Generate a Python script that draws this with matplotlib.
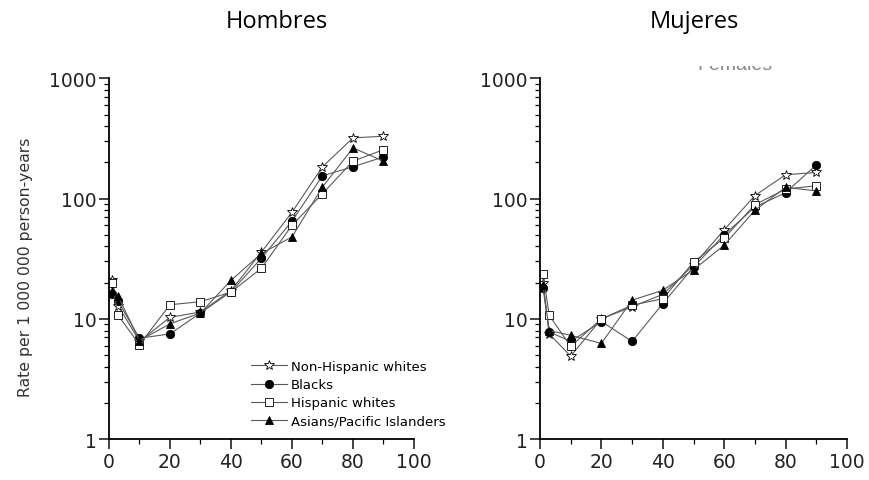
import matplotlib.pyplot as plt
from matplotlib.patches import Rectangle
from matplotlib.ticker import MultipleLocator, LogLocator, NullFormatter, FixedFormatter, FixedLocator

plt.rcParams['font.family'] = ['DejaVu Sans']

# age (years) and rates per 1 000 000 person-years
ages = [1, 3, 10, 20, 30, 40, 50, 60, 70, 80, 90]
series = ['Non-Hispanic whites', 'Blacks', 'Hispanic whites', 'Asians/Pacific Islanders']

men_nhw = [20.9, 12.9, 6.5, 10.3, 11.4, 17.2, 36, 77, 184, 320, 330]
men_blk = [16, 14, 6.9, 7.5, 11.2, 16.8, 32, 65, 155, 184, 222]
men_hisp = [20, 10.7, 6.1, 13.1, 13.9, 16.7, 26.4, 60, 110, 205, 255]
men_asn = [17, 15.4, 6.6, 9.1, 11.2, 20.9, 35, 48, 125, 264, 205]

wom_nhw = [20, 7.5, 4.9, 10, 12.6, 16, 28, 55, 106, 158, 165]
wom_blk = [18, 7.8, 6.5, 9.5, 6.5, 13.4, 27, 50, 85, 112, 191]
wom_hisp = [23.8, 10.7, 5.9, 10, 13, 14.7, 29.7, 47, 89, 120, 128]
wom_asn = [19, 8, 7.3, 6.25, 14.3, 17.3, 25.6, 41, 80, 124, 116]

markers = ['*', 'o', 's', '^']
faces = ['white', 'black', 'white', 'black']
sizes = [7.5, 6, 6, 6]

fig = plt.figure(figsize=(8.69, 4.81), dpi=100)
ax1 = fig.add_axes([0.1254, 0.085, 0.351, 0.75])
ax2 = fig.add_axes([0.6214, 0.085, 0.3533, 0.75])

for ax, data in [(ax1, [men_nhw, men_blk, men_hisp, men_asn]),
                 (ax2, [wom_nhw, wom_blk, wom_hisp, wom_asn])]:
    for vals, lab, m, fc, ms in zip(data, series, markers, faces, sizes):
        ax.plot(ages, vals, color='#5a5a5a', lw=0.8, marker=m, ms=ms,
                mfc=fc, mec='black', mew=0.6, label=lab)
    ax.set_yscale('log')
    ax.set_ylim(1, 1000)
    ax.set_xlim(0, 100)
    ax.spines['top'].set_visible(False)
    ax.spines['right'].set_visible(False)
    ax.spines['left'].set_linewidth(1.3)
    ax.spines['bottom'].set_linewidth(1.3)
    ax.xaxis.set_major_locator(MultipleLocator(20))
    ax.xaxis.set_minor_locator(MultipleLocator(10))
    ax.yaxis.set_major_locator(FixedLocator([1, 10, 100, 1000]))
    ax.yaxis.set_major_formatter(FixedFormatter(['1', '10', '100', '1000']))
    ax.yaxis.set_minor_locator(LogLocator(base=10, subs=range(2, 10)))
    ax.yaxis.set_minor_formatter(NullFormatter())
    ax.tick_params(which='major', direction='out', length=7, width=1.2,
                   labelsize=13.5, colors='#222222', pad=2)
    ax.tick_params(which='minor', direction='out', length=3.5, width=0.9)

ax1.set_ylabel('Rate per 1 000 000 person-years', fontsize=11.3, color='#333333')
ax1.yaxis.set_label_coords(-0.25, 0.48)

leg = fig.legend(*ax1.get_legend_handles_labels(), loc='upper left',
                 bbox_to_anchor=(251 / 869, 1 - 361 / 481), frameon=False,
                 fontsize=9.5, handlelength=2.7, handletextpad=0.3,
                 labelspacing=0.39, borderaxespad=0, borderpad=0)

fig.text(0.319, 0.942, 'Hombres', ha='center', va='baseline', fontsize=17,
         family=['Open Sans', 'DejaVu Sans'])
fig.text(0.799, 0.942, 'Mujeres', ha='center', va='baseline', fontsize=17,
         family=['Open Sans', 'DejaVu Sans'])

# cut-off panel label remnant at the top of the right panel
fig.text(735 / 869, 1 - 70 / 481, 'Females', ha='center', va='baseline',
         fontsize=14, color='#888888', family=['Liberation Sans', 'DejaVu Sans'],
         zorder=1)
fig.add_artist(Rectangle((660 / 869, 1 - 67 / 481), 160 / 869, 30 / 481,
                         transform=fig.transFigure, facecolor='white',
                         edgecolor='none', zorder=10))

fig.savefig('out.png', dpi=100)
